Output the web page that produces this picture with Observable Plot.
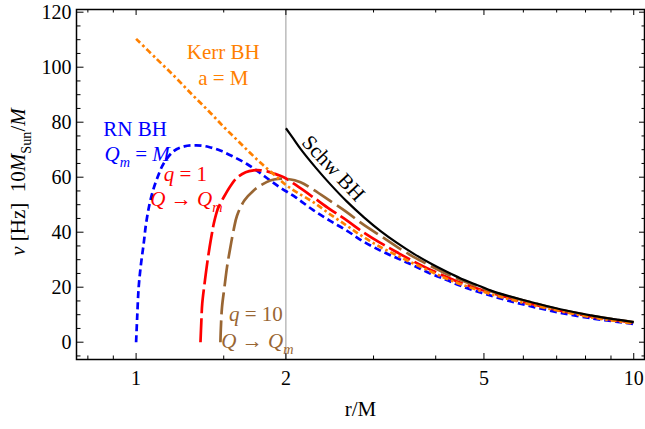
<!DOCTYPE html>
<html>
<head>
<meta charset="utf-8">
<script src="https://cdn.jsdelivr.net/npm/d3@7"></script>
<script src="https://cdn.jsdelivr.net/npm/@observablehq/plot@0.6"></script>
<style>
  html, body { margin: 0; padding: 0; background: #fff; }
  #chart svg { display: block; }
</style>
</head>
<body>
<div id="chart"></div>
<script>
// Orbital frequency ν (Hz, scaled to 10 M_Sun) against radius r/M

// Reissner–Nordström BH, Q_m = M
const rnR  = [1.0, 1.005, 1.012, 1.023, 1.036, 1.047, 1.065, 1.085, 1.11, 1.136, 1.19, 1.25, 1.32, 1.40, 1.48, 1.57, 1.67, 1.76, 1.86, 1.95, 2.1, 2.27, 2.45, 2.65, 2.85, 3.09, 3.35, 3.61, 3.9, 4.21, 4.49, 5.23, 6.1, 7.12, 8.3, 9.2, 10];
const rnNu = [0, 9, 20, 28.5, 36, 43, 50.5, 56, 61, 65, 69.5, 71.2, 71.6, 71.0, 69.6, 67.4, 64.8, 62, 58.8, 56.2, 52.5, 48, 44.2, 40.6, 36.8, 33.4, 30.5, 27.9, 25, 22.6, 20.5, 16.6, 13.4, 10.7, 8.6, 7.5, 6.6];

// Kerr BH, a = M
const kerrR  = [1.0, 1.1, 1.2, 1.3, 1.4, 1.5, 1.6, 1.7, 1.8, 1.9, 2.0, 2.1, 2.27, 2.45, 2.65, 2.85, 3.09, 3.35, 3.61, 3.9, 4.21, 4.49, 5.23, 6.1, 7.12, 8.3, 9.2, 10];
const kerrNu = [110.3, 103, 96.3, 89.8, 84, 78.3, 73.3, 68.6, 64.4, 60.7, 57.2, 54.6, 50.9, 46.6, 42.4, 38.5, 34.7, 31.5, 28.6, 25.8, 23.1, 21.1, 17.2, 14, 11.3, 8.9, 7.7, 6.8];

// q = 1, Q → Q_m
const q1R  = [1.347, 1.352, 1.358, 1.372, 1.389, 1.405, 1.42, 1.432, 1.46, 1.5, 1.55, 1.595, 1.66, 1.723, 1.78, 1.833, 1.9, 1.98, 2.1, 2.27, 2.45, 2.65, 2.85, 3.09, 3.35, 3.61, 3.9, 4.21, 4.49, 5.23, 6.1, 7.12, 8.3, 9.2, 10];
const q1Nu = [0, 7, 14, 21, 28.5, 34.5, 39.4, 43, 48.5, 52.7, 57, 59.8, 61.8, 62.5, 62.5, 62.1, 61.2, 60, 57, 52.7, 48.4, 44.3, 40.2, 36.2, 32.6, 29.4, 26.4, 23.7, 21.6, 17.7, 14.4, 11.5, 9.2, 8, 7];

// q = 10, Q → Q_m
const q10R  = [1.477, 1.481, 1.488, 1.505, 1.523, 1.545, 1.571, 1.595, 1.65, 1.723, 1.79, 1.86, 1.93, 2.01, 2.14, 2.27, 2.45, 2.65, 2.85, 3.09, 3.35, 3.61, 3.9, 4.21, 4.49, 5.23, 6.1, 7.12, 8.3, 9.2, 10];
const q10Nu = [0, 6, 12.7, 20, 27.3, 34, 41, 46, 51.5, 55.2, 57.3, 58.8, 59.4, 59.4, 58.2, 55.5, 51.5, 47.3, 43, 38.8, 34.6, 31, 27.8, 24.8, 22.6, 18.2, 14.9, 11.8, 9.5, 8.2, 7.3];

// Schwarzschild BH
const schwR  = [2, 2.07, 2.14, 2.3, 2.46, 2.65, 2.87, 3.1, 3.35, 3.61, 3.9, 4.21, 4.49, 4.8, 5.23, 6.1, 7.12, 8.3, 9.2, 10];
const schwNu = [77.8, 74, 70.3, 63.3, 57.3, 51.2, 45.4, 40.4, 36, 32.2, 28.7, 25.6, 23.2, 21.1, 18.4, 15, 12, 9.6, 8.3, 7.3];

// Axis ticks
const xMajor = [1, 2, 5, 10];
const xMinor = [0.8, 0.9, 1.5, 3, 4, 6, 7, 8, 9];
const yMajor = [0, 20, 40, 60, 80, 100, 120];
const yMinor = [-5, 5, 10, 15, 25, 30, 35, 45, 50, 55, 65, 70, 75, 85, 90, 95, 105, 110, 115];
const xTitle = "r/M";
const yTitle = "ν [Hz]  10MSun/M";

// Curve labels
const notes = [
  {r: 1.497, nu: 105.3, text: "Kerr BH", color: "#ff8000"},
  {r: 1.497, nu: 95.8,  text: "a = M",   color: "#ff8000"},
  {r: 0.995, nu: 77.6,  text: "RN BH",   color: "#0000ff"},
  {r: 1.005, nu: 68.3,  text: "Qm = M",  color: "#0000ff"},
  {r: 1.256, nu: 61,    text: "q = 1",   color: "#ff0000"},
  {r: 1.262, nu: 51.9,  text: "Q → Qm",  color: "#ff0000"},
  {r: 1.741, nu: 10,    text: "q = 10",  color: "#996633"},
  {r: 1.753, nu: 0.25,  text: "Q → Qm",  color: "#996633"}
];
const schwNote = [{r: 2.49, nu: 63.2, text: "Schw BH"}];

const series = [
  {r: rnR,   nu: rnNu,   color: "#0000ff", dash: "7,4",       width: 2.7},
  {r: q1R,   nu: q1Nu,   color: "#ff0000", dash: "24,5",      width: 2.7},
  {r: q10R,  nu: q10Nu,  color: "#996633", dash: "22,6",      width: 2.7},
  {r: kerrR, nu: kerrNu, color: "#ff8000", dash: "6,3,2.5,3", width: 2.7},
  {r: schwR, nu: schwNu, color: "#000000", dash: null,        width: 2.2}
];

const serif = "'Liberation Serif', 'Times New Roman', Times, serif";
const W = 645, H = 429;
const mL = 76, mR = 1, mT = 9, mB = 70;
const fw = W - mL - mR, fh = H - mT - mB;

const lineMarks = series.map(s =>
  Plot.line(s.r.map((r, i) => ({r, nu: s.nu[i]})), {
    x: "r", y: "nu", stroke: s.color, strokeWidth: s.width,
    strokeDasharray: s.dash, strokeLinecap: "butt", curve: "catmull-rom"
  })
);

const chart = Plot.plot({
  width: W, height: H,
  marginLeft: mL, marginRight: mR, marginTop: mT, marginBottom: mB,
  x: {type: "log", domain: [0.759, 10.51], axis: null},
  y: {domain: [-6.29, 120.98], axis: null},
  style: {background: "white", fontFamily: serif, color: "black"},
  marks: [
    Plot.ruleX([2], {x: d => d, stroke: "#999", strokeWidth: 1}),
    ...lineMarks,
    // inward ticks on all four sides
    Plot.ruleX(xMajor, {x: d => d, insetTop: fh - 6, stroke: "black", strokeWidth: 1}),
    Plot.ruleX(xMinor, {x: d => d, insetTop: fh - 3.5, stroke: "black", strokeWidth: 1}),
    Plot.ruleX(xMajor, {x: d => d, insetBottom: fh - 6, stroke: "black", strokeWidth: 1}),
    Plot.ruleX(xMinor, {x: d => d, insetBottom: fh - 3.5, stroke: "black", strokeWidth: 1}),
    Plot.ruleY(yMajor, {y: d => d, insetRight: fw - 7.5, stroke: "black", strokeWidth: 1}),
    Plot.ruleY(yMinor, {y: d => d, insetRight: fw - 4.5, stroke: "black", strokeWidth: 1}),
    Plot.ruleY(yMajor, {y: d => d, insetLeft: fw - 5, stroke: "black", strokeWidth: 1}),
    Plot.ruleY(yMinor, {y: d => d, insetLeft: fw - 2.5, stroke: "black", strokeWidth: 1}),
    Plot.frame({stroke: "black", strokeWidth: 1.5}),
    // tick labels
    Plot.text(xMajor, {x: d => d, text: d => String(d), frameAnchor: "bottom", dy: 19.5, fontSize: 20, lineAnchor: "middle", fill: "black"}),
    Plot.text(yMajor, {y: d => d, text: d => String(d), frameAnchor: "left", dx: -5, textAnchor: "end", fontSize: 20, lineAnchor: "middle", fill: "black"}),
    // axis titles
    Plot.text([xTitle], {text: d => d, frameAnchor: "bottom", dy: 50, fontSize: 21, textAnchor: "middle", lineAnchor: "middle", fill: "black"}),
    Plot.text([yTitle], {text: d => d, frameAnchor: "left", dx: -58, dy: -2.5, rotate: -90, fontSize: 21, textAnchor: "middle", lineAnchor: "middle", fill: "black"}),
    // curve labels
    Plot.text(notes, {x: "r", y: "nu", text: "text", fill: "color", fontSize: 21, lineAnchor: "middle"}),
    Plot.text(schwNote, {x: "r", y: "nu", text: "text", fill: "black", fontSize: 21, rotate: 47, lineAnchor: "middle"})
  ]
});

// Italic symbols and subscripts inside labels
const richParts = {
  "ν [Hz]  10MSun/M": [{t: "ν", it: 1}, {t: " [Hz]  10"}, {t: "M", it: 1}, {t: "Sun", sub: 1}, {t: "/"}, {t: "M", it: 1}],
  "Qm = M": [{t: "Q", it: 1}, {t: "m", it: 1, sub: 1}, {t: " = "}, {t: "M", it: 1}],
  "q = 1":  [{t: "q", it: 1}, {t: " = 1"}],
  "q = 10": [{t: "q", it: 1}, {t: " = 10"}],
  "Q → Qm": [{t: "Q", it: 1}, {t: " → "}, {t: "Q", it: 1}, {t: "m", it: 1, sub: 1}]
};
const NS = "http://www.w3.org/2000/svg";
chart.querySelectorAll("text").forEach(el => {
  const parts = richParts[el.textContent];
  if (!parts) return;
  const size = 21;
  el.textContent = "";
  let shift = 0;
  for (const p of parts) {
    const ts = document.createElementNS(NS, "tspan");
    const target = p.sub ? 0.27 * size : 0;
    if (target !== shift) { ts.setAttribute("dy", target - shift); shift = target; }
    if (p.it) ts.setAttribute("font-style", "italic");
    if (p.sub) ts.setAttribute("font-size", 0.68 * size);
    ts.textContent = p.t;
    el.appendChild(ts);
  }
});

document.getElementById("chart").appendChild(chart);
</script>
</body>
</html>
